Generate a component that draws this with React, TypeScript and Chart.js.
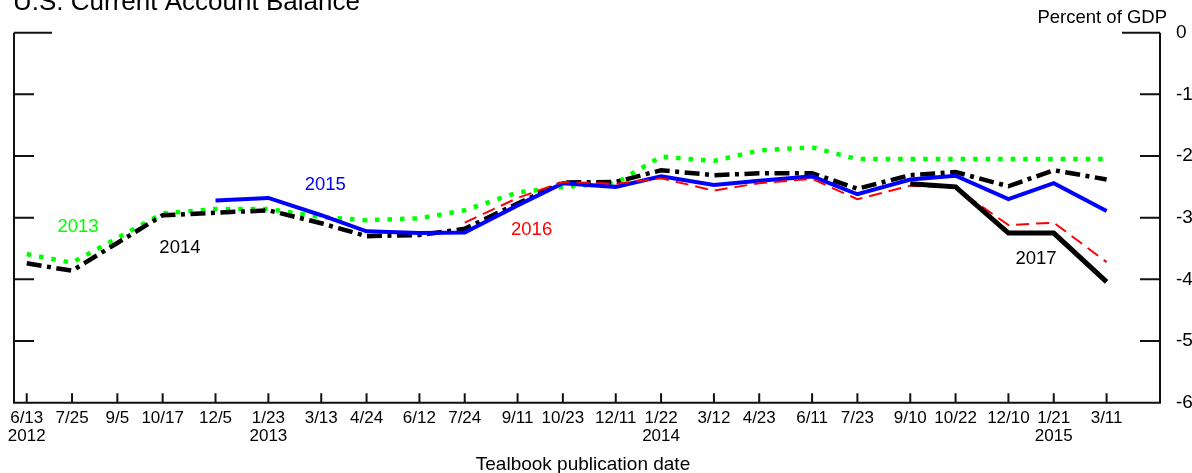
import React, { useEffect, useRef } from "react";
import { Chart, registerables } from "chart.js";

Chart.register(...registerables);

// ---------- data ----------
const publicationDates = [
  "2012-06-13", "2012-07-25", "2012-09-05", "2012-10-17", "2012-12-05",
  "2013-01-23", "2013-03-13", "2013-04-24", "2013-06-12", "2013-07-24",
  "2013-09-11", "2013-10-23", "2013-12-11", "2014-01-22", "2014-03-12",
  "2014-04-23", "2014-06-11", "2014-07-23", "2014-09-10", "2014-10-22",
  "2014-12-10", "2015-01-21", "2015-03-11",
];
const monthDayLabels = [
  "6/13", "7/25", "9/5", "10/17", "12/5", "1/23", "3/13", "4/24", "6/12", "7/24",
  "9/11", "10/23", "12/11", "1/22", "3/12", "4/23", "6/11", "7/23", "9/10", "10/22",
  "12/10", "1/21", "3/11",
];
const yearLabels = [
  "2012", "", "", "", "", "2013", "", "", "", "",
  "", "", "", "2014", "", "", "", "", "", "",
  "", "2015", "",
];

const forecast2013 = [
  -3.59, -3.73, -3.33, -2.93, -2.86, -2.86, -2.99, -3.04, -3.01, -2.88,
  -2.59, -2.5, -2.44, -2.01, -2.08, -1.91, -1.86, -2.05, -2.05, -2.05,
  -2.05, -2.05, -2.05,
];
const forecast2014 = [
  -3.74, -3.86, -3.41, -2.96, -2.92, -2.88, -3.09, -3.3, -3.28, -3.18,
  -2.77, -2.43, -2.42, -2.23, -2.31, -2.28, -2.28, -2.53, -2.31, -2.26,
  -2.49, -2.23, -2.38,
];
const forecast2015 = [
  null, null, null, null, -2.72, -2.68, -2.96, -3.22, -3.25, -3.24,
  -2.8, -2.44, -2.5, -2.33, -2.47, -2.4, -2.33, -2.62, -2.38, -2.32,
  -2.7, -2.44, -2.89,
];
const forecast2016 = [
  null, null, null, null, null, null, null, null, null, -3.08,
  -2.68, -2.42, -2.45, -2.36, -2.56, -2.44, -2.37, -2.7, -2.48, -2.52,
  -3.12, -3.08, -3.72,
];
const forecast2017 = [
  null, null, null, null, null, null, null, null, null, null,
  null, null, null, null, null, null, null, null, -2.45, -2.5,
  -3.25, -3.25, -4.04,
];

const yTickValues = [0, -1, -2, -3, -4, -5, -6];

// series labels, anchored in data coordinates (days since first date, percent)
const seriesLabelTexts = ["2013", "2014", "2015", "2016", "2017"];
const seriesLabelDays = [47.6, 142, 276.7, 468, 935.6];
const seriesLabelValues = [-3.15, -3.49, -2.47, -3.2, -3.67];
const seriesLabelColors = ["#00ff00", "#000000", "#0000ff", "#ff0000", "#000000"];

// ---------- helpers ----------
const FONT = "'Liberation Sans', Arial, Helvetica, sans-serif";
const toUTC = (s: string) => {
  const [y, m, d] = s.split("-").map(Number);
  return Date.UTC(y, m - 1, d);
};
const baseTime = toUTC(publicationDates[0]);
const dayOffsets = publicationDates.map((s) => (toUTC(s) - baseTime) / 86400000);

const toPoints = (values: (number | null)[]) =>
  values
    .map((v, i) => (v === null ? null : { x: dayOffsets[i], y: v }))
    .filter((p) => p !== null) as { x: number; y: number }[];

const decorPlugin = {
  id: "decor",
  afterDatasetsDraw(chart: any) {
    const { ctx, scales } = chart;
    const x = scales.x;
    const y = scales.y;
    ctx.save();
    ctx.font = `18.5px ${FONT}`;
    ctx.textAlign = "center";
    ctx.textBaseline = "middle";
    seriesLabelTexts.forEach((t, i) => {
      ctx.fillStyle = seriesLabelColors[i];
      ctx.fillText(t, x.getPixelForValue(seriesLabelDays[i]), y.getPixelForValue(seriesLabelValues[i]));
    });
    ctx.restore();
  },
  afterDraw(chart: any) {
    const { ctx, chartArea, scales } = chart;
    const { left, right, top, bottom } = chartArea;
    const x = scales.x;
    const y = scales.y;
    ctx.save();
    ctx.strokeStyle = "#111";
    ctx.lineWidth = 2;
    ctx.lineCap = "butt";
    ctx.beginPath();
    ctx.moveTo(left, top);
    ctx.lineTo(left, bottom);
    ctx.lineTo(right, bottom);
    ctx.lineTo(right, top);
    ctx.stroke();

    ctx.beginPath();
    yTickValues.forEach((v) => {
      if (v === -6) return;
      const py = y.getPixelForValue(v);
      const len = v === 0 ? 38 : 20;
      ctx.moveTo(left, py);
      ctx.lineTo(left + len, py);
      ctx.moveTo(right, py);
      ctx.lineTo(right - len, py);
    });
    dayOffsets.forEach((d) => {
      const px = x.getPixelForValue(d);
      ctx.moveTo(px, bottom);
      ctx.lineTo(px, bottom - 9.5);
    });
    ctx.stroke();

    ctx.fillStyle = "#000";
    ctx.textBaseline = "alphabetic";
    ctx.font = `26px ${FONT}`;
    ctx.textAlign = "left";
    ctx.fillText("U.S. Current Account Balance", 13, 10);

    ctx.font = `18.5px ${FONT}`;
    ctx.textAlign = "right";
    ctx.fillText("Percent of GDP", 1167, 22.7);

    ctx.font = `19px ${FONT}`;
    ctx.textAlign = "center";
    ctx.fillText("Tealbook publication date", 583, 470);
    ctx.restore();
  },
};

export default function App() {
  const canvasRef = useRef<HTMLCanvasElement | null>(null);

  useEffect(() => {
    const canvas = canvasRef.current;
    if (!canvas) return;
    const line = (
      data: (number | null)[],
      color: string,
      width: number,
      dash: number[],
      order: number
    ) => ({
      data: toPoints(data),
      borderColor: color,
      backgroundColor: color,
      borderWidth: width,
      borderDash: dash,
      borderCapStyle: "butt" as const,
      borderJoinStyle: "miter" as const,
      pointRadius: 0,
      tension: 0,
      fill: false,
      order,
    });

    const chart = new Chart(canvas, {
      type: "line",
      data: {
        datasets: [
          line(forecast2013, "#00ff00", 4.5, [4.5, 8], 5),
          line(forecast2014, "#000000", 4.5, [15, 5.5, 4, 5.5], 4),
          line(forecast2015, "#0000ff", 4, [], 3),
          line(forecast2016, "#ff0000", 2, [13, 7], 2),
          line(forecast2017, "#000000", 5, [], 1),
        ],
      },
      options: {
        responsive: false,
        animation: false,
        devicePixelRatio: 1,
        layout: { padding: { left: 14, top: 32.7, right: 0, bottom: 0 } },
        plugins: { legend: { display: false }, tooltip: { enabled: false }, title: { display: false } },
        scales: {
          x: {
            type: "linear",
            position: "bottom",
            min: -11.8,
            max: 1050.5,
            grid: { display: false },
            border: { display: false },
            afterBuildTicks: (scale: any) => {
              scale.ticks = dayOffsets.map((v) => ({ value: v }));
            },
            afterFit: (scale: any) => {
              scale.height = 473 - 402.7;
            },
            ticks: {
              autoSkip: false,
              maxRotation: 0,
              minRotation: 0,
              padding: -1.5,
              color: "#000",
              font: { family: FONT, size: 17, lineHeight: 1.05 },
              callback: (_v: any, i: number) =>
                yearLabels[i] ? [monthDayLabels[i], yearLabels[i]] : monthDayLabels[i],
            },
          },
          y: {
            type: "linear",
            position: "right",
            min: -6,
            max: 0,
            grid: { display: false },
            border: { display: false },
            afterBuildTicks: (scale: any) => {
              scale.ticks = yTickValues.map((v) => ({ value: v }));
            },
            afterFit: (scale: any) => {
              scale.width = 1192 - 1160;
            },
            ticks: {
              padding: 8,
              color: "#000",
              font: { family: FONT, size: 19 },
              callback: (v: any) => String(v),
            },
          },
        },
      },
      plugins: [decorPlugin],
    } as any);

    return () => chart.destroy();
  }, []);

  return (
    <div style={{ position: "absolute", left: 0, top: 0, width: 1192, height: 473, background: "#fff" }}>
      <canvas ref={canvasRef} width={1192} height={473} style={{ display: "block" }} />
    </div>
  );
}
